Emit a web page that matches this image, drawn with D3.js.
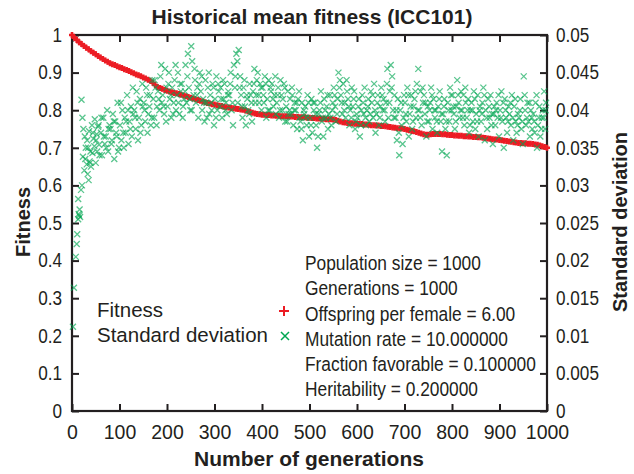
<!DOCTYPE html>
<html><head><meta charset="utf-8">
<script src="https://cdn.jsdelivr.net/npm/d3@7"></script>
<style>
body{margin:0;background:#fff}
svg{display:block}
text{font-family:"Liberation Sans",Arial,Helvetica,sans-serif;fill:#231f20}
</style>
</head><body><svg id="c" width="634" height="474"></svg>
<script>
const title = "Historical mean fitness (ICC101)";
const xLabel = "Number of generations";
const yLabel = "Fitness";
const y2Label = "Standard deviation";
const xTicks = [0,100,200,300,400,500,600,700,800,900,1000];
const yTicks = [0,0.1,0.2,0.3,0.4,0.5,0.6,0.7,0.8,0.9,1];
const y2Ticks = [0,0.005,0.01,0.015,0.02,0.025,0.03,0.035,0.04,0.045,0.05];
const legendLabels = ["Fitness","Standard deviation"];
const notes = ["Population size = 1000","Generations = 1000","Offspring per female = 6.00",
  "Mutation rate = 10.000000","Fraction favorable = 0.100000","Heritability = 0.200000"];

// mean fitness, one value every 5 generations (0..1000)
const fitnessStep = 5;
const fitness = [
1.000,0.993,0.987,0.981,0.976,0.971,0.966,0.962,0.957,0.953,0.949,0.944,0.940,0.936,0.932,0.929,0.925,0.922,0.920,0.917,
0.914,0.912,0.909,0.907,0.904,0.901,0.898,0.895,0.893,0.890,0.887,0.884,0.881,0.878,0.873,0.867,0.862,0.859,0.857,0.854,
0.852,0.850,0.848,0.846,0.845,0.843,0.841,0.839,0.837,0.835,0.833,0.831,0.829,0.827,0.825,0.823,0.821,0.819,0.818,0.816,
0.815,0.813,0.812,0.811,0.809,0.808,0.807,0.806,0.805,0.804,0.803,0.802,0.801,0.799,0.797,0.795,0.793,0.791,0.790,0.789,
0.788,0.788,0.787,0.787,0.786,0.786,0.785,0.785,0.784,0.784,0.784,0.783,0.783,0.783,0.782,0.782,0.781,0.781,0.781,0.780,
0.780,0.779,0.779,0.778,0.778,0.777,0.777,0.776,0.776,0.776,0.775,0.774,0.772,0.770,0.768,0.767,0.766,0.765,0.765,0.764,
0.764,0.763,0.763,0.762,0.762,0.761,0.760,0.760,0.759,0.759,0.758,0.758,0.757,0.756,0.755,0.754,0.753,0.752,0.752,0.751,
0.750,0.748,0.747,0.745,0.744,0.742,0.740,0.738,0.736,0.735,0.735,0.736,0.737,0.737,0.737,0.737,0.736,0.736,0.735,0.734,
0.734,0.733,0.733,0.732,0.732,0.731,0.731,0.730,0.730,0.729,0.729,0.728,0.728,0.727,0.726,0.725,0.724,0.723,0.722,0.722,
0.721,0.720,0.719,0.718,0.717,0.716,0.715,0.714,0.713,0.713,0.712,0.712,0.711,0.711,0.710,0.709,0.708,0.706,0.704,0.702,
0.700];

// standard deviation samples: generation and value
const sdGen = [
2,4,8,10,11,13,13,14,15,16,17,19,20,21,22,23,24,26,27,28,29,
31,32,33,35,36,37,39,40,42,43,45,47,48,50,52,53,55,57,58,
61,63,66,69,71,74,76,79,81,83,86,89,91,94,96,99,
101,104,106,108,111,113,116,119,121,124,126,129,131,134,136,139,141,143,146,149,
151,154,156,159,161,164,166,169,171,173,176,179,181,184,186,189,191,194,196,199,
201,203,206,209,211,214,216,219,221,223,226,229,231,234,236,239,241,244,246,249,
251,253,256,259,261,264,266,269,271,274,276,279,281,283,286,289,291,294,296,299,
301,304,306,309,311,313,316,319,321,324,326,329,331,334,336,339,341,343,346,349,
351,354,356,359,361,364,366,369,371,374,376,379,381,384,386,389,391,393,396,399,
401,404,406,409,411,414,416,419,421,424,426,429,431,434,436,439,441,443,446,449,
451,454,456,459,461,464,466,469,471,474,476,479,481,484,486,489,491,494,496,499,
501,504,506,509,511,514,516,519,521,524,526,529,531,534,536,539,541,543,546,549,
551,554,556,559,561,564,566,569,571,574,576,579,581,584,586,589,591,594,596,599,
601,604,606,609,611,614,616,619,621,624,626,629,631,634,636,639,641,644,646,649,
651,654,656,659,661,664,666,669,671,674,676,679,681,684,686,689,691,694,696,699,
701,704,706,709,711,714,716,719,721,724,726,729,731,734,736,739,741,743,746,749,
751,754,756,759,761,764,766,769,771,774,776,779,781,784,786,789,791,794,796,799,
801,804,806,809,811,814,816,819,821,824,826,829,831,834,836,839,841,844,846,849,
851,854,856,859,861,864,866,869,871,874,876,879,881,884,886,889,891,894,896,899,
901,904,906,909,911,914,916,919,921,924,926,929,931,934,936,939,941,944,946,949,
951,954,956,959,961,964,966,969,971,974,976,979,981,984,986,989,991,994,996,998,
34,38,44,51,56,62,67,72,77,84,88,93,97,
103,109,114,118,123,128,133,138,144,148,153,158,163,168,174,178,183,188,193,198,
204,208,213,218,224,228,233,238,243,248,252,258,263,268,273,278,284,288,293,298,
303,308,314,318,323,328,333,338,344,348,353,358,363,368,373,378,383,388,394,398,
403,408,413,418,423,428,433,438,444,448,453,458,463,468,473,478,483,488,493,498,
503,508,513,518,523,528,533,538,544,548,553,558,563,568,573,578,583,588,593,598,
603,608,613,618,623,628,633,638,643,648,653,658,663,668,673,678,683,688,693,698,
703,708,713,718,723,728,733,738,744,748,753,758,763,768,773,778,783,788,793,798,
803,808,813,818,823,828,833,838,843,848,853,858,863,868,873,878,883,888,893,898,
903,908,913,918,923,928,933,938,943,948,953,958,963,968,973,978,983,988,993,997];
const sdVal = [
0.0112,0.0164,0.0205,0.0222,0.0235,0.0255,0.0282,0.0262,0.0260,0.0268,0.0258,0.0294,0.0414,0.0300,0.0390,0.0338,0.0375,0.0320,0.0365,0.0335,0.0350,
0.0328,0.0360,0.0315,0.0307,0.0372,0.0332,0.0345,0.0325,0.0380,0.0343,0.0362,0.0352,0.0388,0.0330,0.0368,0.0345,0.0378,0.0354,0.0340,
0.0370,0.0340,0.0390,0.0355,0.0365,0.0400,0.0345,0.0380,0.0375,0.0355,0.0395,0.0335,0.0385,0.0365,0.0410,0.0350,
0.0380,0.0360,0.0400,0.0370,0.0390,0.0370,0.0420,0.0355,0.0385,0.0405,0.0365,0.0395,0.0400,0.0375,0.0425,0.0360,0.0390,0.0415,0.0380,0.0405,
0.0410,0.0385,0.0430,0.0370,0.0395,0.0420,0.0380,0.0440,0.0415,0.0390,0.0430,0.0405,0.0425,0.0400,0.0445,0.0410,0.0420,0.0395,0.0455,0.0430,
0.0405,0.0435,0.0415,0.0390,0.0430,0.0410,0.0440,0.0400,0.0420,0.0450,0.0395,0.0425,0.0435,0.0405,0.0415,0.0460,0.0410,0.0475,0.0430,0.0400,
0.0485,0.0465,0.0420,0.0440,0.0410,0.0430,0.0390,0.0450,0.0425,0.0400,0.0415,0.0385,0.0440,0.0410,0.0430,0.0395,0.0420,0.0400,0.0435,0.0380,
0.0415,0.0445,0.0400,0.0425,0.0405,0.0430,0.0390,0.0415,0.0435,0.0410,0.0395,0.0425,0.0420,0.0450,0.0400,0.0380,0.0460,0.0430,0.0475,0.0410,
0.0480,0.0445,0.0420,0.0390,0.0430,0.0405,0.0380,0.0415,0.0400,0.0435,0.0420,0.0385,0.0425,0.0455,0.0410,0.0440,0.0450,0.0420,0.0435,0.0400,
0.0430,0.0410,0.0445,0.0390,0.0415,0.0440,0.0400,0.0425,0.0435,0.0405,0.0420,0.0395,0.0410,0.0430,0.0390,0.0440,0.0420,0.0400,0.0435,0.0385,
0.0405,0.0425,0.0395,0.0415,0.0395,0.0420,0.0380,0.0410,0.0400,0.0375,0.0415,0.0390,0.0385,0.0410,0.0360,0.0395,0.0405,0.0380,0.0420,0.0365,
0.0390,0.0415,0.0370,0.0400,0.0410,0.0380,0.0350,0.0395,0.0400,0.0425,0.0385,0.0365,0.0415,0.0390,0.0405,0.0375,0.0395,0.0420,0.0380,0.0410,
0.0430,0.0405,0.0385,0.0415,0.0450,0.0440,0.0420,0.0395,0.0435,0.0410,0.0390,0.0425,0.0415,0.0380,0.0400,0.0430,0.0405,0.0425,0.0375,0.0395,
0.0390,0.0415,0.0365,0.0400,0.0420,0.0395,0.0430,0.0380,0.0400,0.0415,0.0385,0.0425,0.0410,0.0390,0.0435,0.0370,0.0395,0.0420,0.0380,0.0405,
0.0430,0.0400,0.0415,0.0385,0.0410,0.0455,0.0390,0.0425,0.0460,0.0445,0.0400,0.0420,0.0390,0.0360,0.0415,0.0340,0.0400,0.0380,0.0355,0.0420,
0.0410,0.0385,0.0430,0.0365,0.0395,0.0420,0.0375,0.0405,0.0415,0.0390,0.0435,0.0455,0.0400,0.0425,0.0380,0.0410,0.0420,0.0395,0.0365,0.0405,
0.0385,0.0410,0.0430,0.0375,0.0415,0.0390,0.0400,0.0370,0.0405,0.0425,0.0385,0.0345,0.0395,0.0415,0.0375,0.0340,0.0410,0.0385,0.0430,0.0400,
0.0420,0.0395,0.0375,0.0405,0.0440,0.0410,0.0390,0.0425,0.0400,0.0420,0.0380,0.0410,0.0390,0.0415,0.0370,0.0400,0.0410,0.0385,0.0425,0.0375,
0.0395,0.0420,0.0365,0.0405,0.0385,0.0410,0.0430,0.0360,0.0400,0.0375,0.0415,0.0390,0.0420,0.0395,0.0355,0.0405,0.0380,0.0410,0.0390,0.0365,
0.0400,0.0425,0.0385,0.0350,0.0415,0.0390,0.0370,0.0405,0.0395,0.0380,0.0420,0.0360,0.0405,0.0385,0.0370,0.0395,0.0390,0.0415,0.0375,0.0355,
0.0445,0.0400,0.0380,0.0410,0.0385,0.0365,0.0400,0.0375,0.0395,0.0370,0.0410,0.0350,0.0380,0.0405,0.0365,0.0390,0.0400,0.0425,0.0375,0.0410,
0.0350,0.0330,0.0370,0.0360,0.0380,0.0390,0.0365,0.0350,0.0375,0.0360,0.0385,0.0370,0.0345,
0.0410,0.0350,0.0385,0.0400,0.0375,0.0430,0.0390,0.0410,0.0370,0.0435,0.0400,0.0420,0.0405,0.0390,0.0440,0.0380,0.0415,0.0460,0.0405,0.0385,
0.0450,0.0420,0.0395,0.0460,0.0410,0.0435,0.0390,0.0425,0.0445,0.0415,0.0400,0.0455,0.0420,0.0435,0.0445,0.0410,0.0390,0.0450,0.0410,0.0430,
0.0390,0.0435,0.0415,0.0440,0.0400,0.0420,0.0435,0.0410,0.0445,0.0465,0.0430,0.0405,0.0440,0.0420,0.0395,0.0410,0.0435,0.0420,0.0410,0.0430,
0.0420,0.0435,0.0400,0.0430,0.0415,0.0445,0.0420,0.0400,0.0415,0.0430,0.0385,0.0400,0.0430,0.0400,0.0410,0.0425,0.0375,0.0400,0.0390,0.0410,
0.0380,0.0410,0.0395,0.0365,0.0410,0.0390,0.0400,0.0420,0.0390,0.0400,0.0420,0.0395,0.0430,0.0410,0.0400,0.0440,0.0405,0.0390,0.0415,0.0385,
0.0405,0.0380,0.0410,0.0390,0.0405,0.0395,0.0420,0.0400,0.0410,0.0390,0.0420,0.0400,0.0435,0.0410,0.0430,0.0390,0.0400,0.0370,0.0410,0.0390,
0.0395,0.0420,0.0405,0.0385,0.0425,0.0400,0.0390,0.0430,0.0410,0.0385,0.0400,0.0420,0.0400,0.0385,0.0415,0.0395,0.0405,0.0385,0.0400,0.0420,
0.0405,0.0385,0.0420,0.0400,0.0390,0.0430,0.0400,0.0380,0.0400,0.0415,0.0385,0.0400,0.0395,0.0420,0.0390,0.0405,0.0380,0.0395,0.0400,0.0420,
0.0390,0.0410,0.0400,0.0385,0.0410,0.0390,0.0415,0.0380,0.0400,0.0385,0.0420,0.0390,0.0410,0.0390,0.0385,0.0420,0.0390,0.0375,0.0390,0.0400];

const W = 634, H = 474;
const L = 72, R = 547, T = 35, B = 411;
const ink = "#231f20";
const red = "#ec1c24";
const green = "#00a651";

const svg = d3.select("#c");
svg.append("rect").attr("width", W).attr("height", H).attr("fill", "#fff");

const x = d3.scaleLinear().domain([0, 1000]).range([L, R]);
const y = d3.scaleLinear().domain([0, 1]).range([B, T]);
const y2 = d3.scaleLinear().domain([0, 0.05]).range([B, T]);

function styleAxis(g) {
  g.select(".domain").remove();
  g.selectAll(".tick line").attr("stroke", ink).attr("stroke-width", 2);
  g.selectAll(".tick text").attr("fill", ink);
}

const fmt = d => d === 0 ? "0" : String(+d.toFixed(3));

const gx = svg.append("g").attr("transform", `translate(0,${B})`)
  .call(d3.axisBottom(x).tickValues(xTicks).tickSize(-7).tickSizeOuter(0).tickPadding(14).tickFormat(d3.format("d")));
styleAxis(gx);
gx.selectAll(".tick text").attr("font-size", 19.5).style("font-family", '"Liberation Sans",Arial,sans-serif');

const gt = svg.append("g").attr("transform", `translate(0,${T})`)
  .call(d3.axisTop(x).tickValues(xTicks).tickSize(-7).tickSizeOuter(0).tickFormat(""));
styleAxis(gt);

const sx = 0.88;
const gy = svg.append("g").attr("transform", `translate(${L},0)`)
  .call(d3.axisLeft(y).tickValues(yTicks).tickSize(-7).tickSizeOuter(0).tickPadding(10).tickFormat(fmt));
styleAxis(gy);
gy.selectAll(".tick text").attr("font-size", 19.5).attr("x", -10 / sx).attr("transform", `scale(${sx},1)`);

const gy2 = svg.append("g").attr("transform", `translate(${R},0)`)
  .call(d3.axisRight(y2).tickValues(y2Ticks).tickSize(-7).tickSizeOuter(0).tickPadding(9).tickFormat(fmt));
styleAxis(gy2);
gy2.selectAll(".tick text").attr("font-size", 19.5).attr("x", 9 / sx).attr("transform", `scale(${sx},1)`);

// frame
svg.append("rect").attr("x", L).attr("y", T).attr("width", R - L).attr("height", B - T)
  .attr("fill", "none").attr("stroke", ink).attr("stroke-width", 2.2);

const plusPath = s => `M${-s},0H${s}M0,${-s}V${s}`;
const crossPath = s => `M${-s},${-s}L${s},${s}M${-s},${s}L${s},${-s}`;

// fitness markers (+)
svg.append("g").selectAll("path").data(fitness).join("path")
  .attr("transform", (d, i) => `translate(${x(i * fitnessStep)},${y(d)})`)
  .attr("d", plusPath(3)).attr("stroke", red).attr("stroke-width", 2.6).attr("fill", "none");

// standard deviation markers (x)
const sdData = sdGen.map((g, i) => [g, sdVal[i]]);
svg.append("g").selectAll("path").data(sdData).join("path")
  .attr("transform", d => `translate(${x(d[0])},${y2(d[1])})`)
  .attr("d", crossPath(3)).attr("stroke", green).attr("stroke-width", 1.3)
  .attr("stroke-opacity", 0.65).attr("fill", "none");

// title & axis labels
svg.append("text").attr("x", 312).attr("y", 24).attr("text-anchor", "middle")
  .attr("font-size", 21).attr("font-weight", "bold").text(title);
svg.append("text").attr("x", 309).attr("y", 466).attr("text-anchor", "middle")
  .attr("font-size", 21).attr("font-weight", "bold").text(xLabel);
svg.append("text").attr("transform", "translate(30,222) rotate(-90)").attr("text-anchor", "middle")
  .attr("font-size", 20).attr("font-weight", "bold").text(yLabel);
svg.append("text").attr("transform", "translate(627,222) rotate(-90)").attr("text-anchor", "middle")
  .attr("font-size", 20).attr("font-weight", "bold").text(y2Label);

// legend
const lg = svg.append("g");
lg.selectAll("text").data(legendLabels).join("text")
  .attr("x", 97).attr("y", (d, i) => 317 + i * 25).attr("font-size", 20.5).text(d => d);
lg.append("path").attr("transform", "translate(284,311)").attr("d", plusPath(5))
  .attr("stroke", red).attr("stroke-width", 2).attr("fill", "none");
lg.append("path").attr("transform", "translate(285,336)").attr("d", crossPath(4))
  .attr("stroke", green).attr("stroke-width", 1.5).attr("fill", "none");

// parameter notes
const nsx = 0.89;
const ng = svg.append("g").attr("transform", `translate(305,0) scale(${nsx},1)`);
ng.selectAll("text").data(notes).join("text")
  .attr("x", 0).attr("y", (d, i) => 270 + i * 25.3).attr("font-size", 19.5).text(d => d);
</script>
</body></html>
